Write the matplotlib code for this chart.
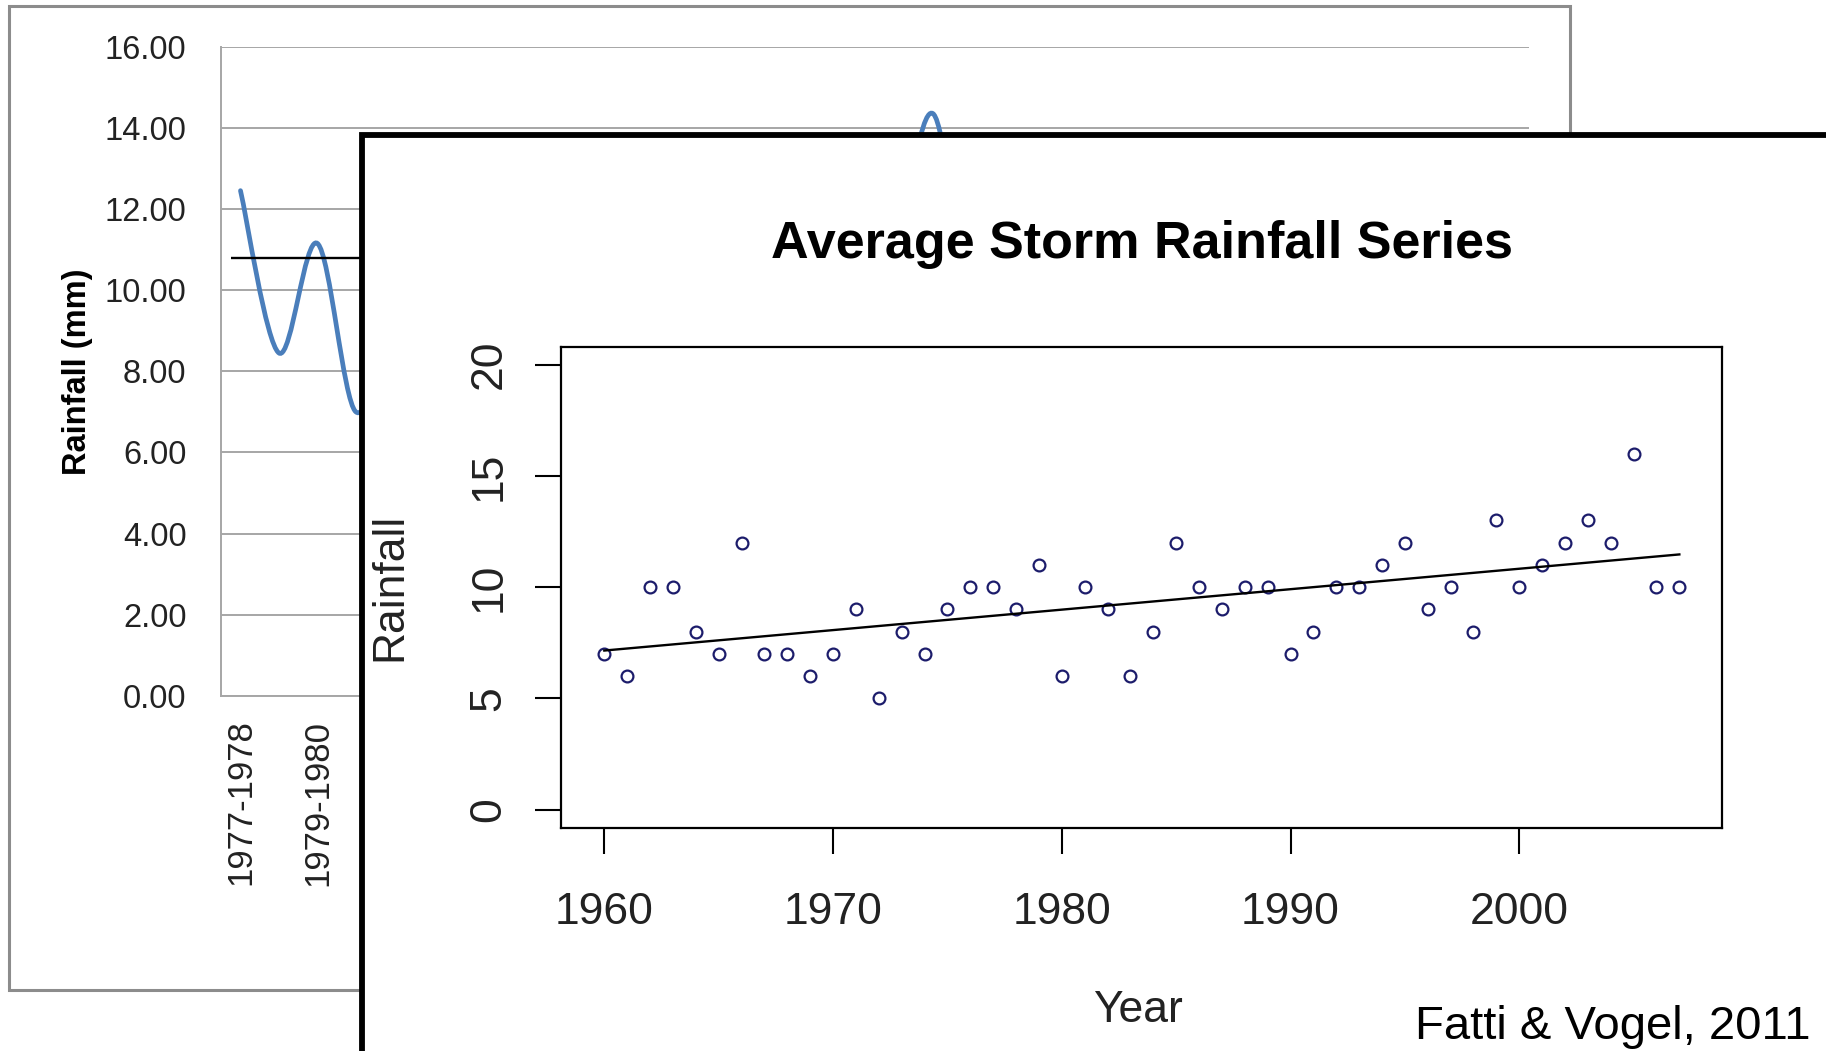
import numpy as np
import matplotlib
matplotlib.use("Agg")
import matplotlib.pyplot as plt
from matplotlib import font_manager
from matplotlib.patches import Rectangle, PathPatch
from matplotlib.path import Path

# ---- back chart (Excel style), mostly hidden behind the R plot ----
seasons = ["%d-%d" % (y, y + 1) for y in range(1977, 2011)]
season_rain = [12.45, 8.45, 11.15, 7.0, 9.6, 11.8, 8.9, 10.4, 12.2, 9.1,
               10.8, 8.2, 11.5, 10.1, 9.4, 12.6, 8.8, 10.9, 14.35, 9.7,
               11.2, 8.6, 10.5, 12.9, 9.3, 11.6, 10.2, 8.9, 12.1, 10.7,
               9.5, 11.9, 10.3, 11.0]
mean_rain = 10.78
back_yticks = [0, 2, 4, 6, 8, 10, 12, 14, 16]

# ---- front chart (R scatter) ----
years = list(range(1960, 2008))
storm_rain = [7, 6, 10, 10, 8, 7, 12, 7, 7, 6,
              7, 9, 5, 8, 7, 9, 10, 10, 9, 11,
              6, 10, 9, 6, 8, 12, 10, 9, 10, 10,
              7, 8, 10, 10, 11, 12, 9, 10, 8, 13,
              10, 11, 12, 13, 12, 16, 10, 10]
front_xticks = [1960, 1970, 1980, 1990, 2000]
front_yticks = [0, 5, 10, 15, 20]


def pick(name, fallback):
    try:
        font_manager.findfont(font_manager.FontProperties(family=name),
                              fallback_to_default=False)
        return name
    except Exception:
        return fallback


narrow = pick("Liberation Sans Narrow", "Liberation Sans")
arial = pick("Liberation Sans", "DejaVu Sans")

W, H = 1568.0, 903.0  # reference layout units

fig = plt.figure(figsize=(18.26, 10.51), dpi=100)
fig.patch.set_facecolor("white")

# outer grey frame of the Excel chart
fig.add_artist(Rectangle((8 / W, 1 - 851 / H), 1340 / W, 846 / H,
                         transform=fig.transFigure, fill=False,
                         ec="#8c8c8c", lw=2.2, zorder=-1))

axb = fig.add_axes([190 / W, 1 - 598 / H, 1123 / W, 558 / H], zorder=0)
axb.set_facecolor("none")
axb.set_xlim(-0.5, len(seasons) - 0.5)
axb.set_ylim(0, 16)
axb.set_yticks(back_yticks)
axb.set_yticklabels(["%.2f" % v for v in back_yticks], fontsize=23.5,
                    family=narrow, color="#222222")
axb.set_xticks(range(0, len(seasons), 2))
axb.set_xticklabels(seasons[::2], rotation=90, fontsize=25, family=arial,
                    color="#222222")
# labels further right sit under the front panel
for lbl in axb.get_xticklabels()[2:]:
    lbl.set_visible(False)
axb.tick_params(length=0)
axb.tick_params(axis="y", pad=25)
axb.tick_params(axis="x", pad=17)
axb.grid(axis="y", color="#a6a6a6", lw=1.4)
axb.set_axisbelow(True)
for s in ["top", "right"]:
    axb.spines[s].set_visible(False)
for s in ["left", "bottom"]:
    axb.spines[s].set_color("#a6a6a6")
    axb.spines[s].set_linewidth(1.4)
axb.set_ylabel("Rainfall (mm)", fontsize=23.5, weight="bold", family=arial)
axb.yaxis.set_label_coords(-0.110, 0.5)
axb.yaxis.label.set_va("center")

# smoothed line (Catmull-Rom as cubic bezier segments)
xs = np.arange(len(season_rain), dtype=float)
ys = np.array(season_rain, dtype=float)
px = np.concatenate([[xs[0]], xs, [xs[-1]]])
py = np.concatenate([[ys[0]], ys, [ys[-1]]])
verts = [(xs[0], ys[0])]
codes = [Path.MOVETO]
for i in range(1, len(px) - 2):
    c1 = (px[i] + (px[i + 1] - px[i - 1]) / 6, py[i] + (py[i + 1] - py[i - 1]) / 6)
    c2 = (px[i + 1] - (px[i + 2] - px[i]) / 6, py[i + 1] - (py[i + 2] - py[i]) / 6)
    verts += [c1, c2, (px[i + 1], py[i + 1])]
    codes += [Path.CURVE4] * 3
axb.add_patch(PathPatch(Path(verts, codes), fill=False, ec="#4a7ebb",
                        lw=3.4, capstyle="round"))
axb.hlines(mean_rain, -0.25, len(seasons) - 0.75, color="black", lw=1.7)

# white panel with thick black border (front image)
fig.add_artist(Rectangle((311 / W, -0.2), 1.0, (1 - 116 / H) + 0.2,
                         transform=fig.transFigure, fc="white",
                         ec="black", lw=4.2, zorder=1))

axf = fig.add_axes([482 / W, 1 - 711 / H, 997 / W, 413 / H], zorder=2)
axf.set_facecolor("white")
axf.plot(years, storm_rain, "o", mfc="none", mec="#1c1c6b", ms=8.5, mew=1.6)
slope, icpt = np.polyfit(years, storm_rain, 1)
yr = np.array([years[0], years[-1]])
axf.plot(yr, icpt + slope * yr, color="black", lw=1.7)
axf.set_xlim(1958.12, 2008.88)
axf.set_ylim(-0.8, 20.8)
axf.set_xticks(front_xticks)
axf.set_xticklabels([str(v) for v in front_xticks], fontsize=32, family=narrow,
                    color="#222222")
axf.set_yticks(front_yticks)
axf.set_yticklabels([str(v) for v in front_yticks], fontsize=32, family=narrow,
                    rotation=90, va="center", color="#222222")
axf.tick_params(direction="out", length=18.4, width=1.5)
axf.tick_params(axis="x", pad=28)
axf.tick_params(axis="y", pad=19)
for s in axf.spines.values():
    s.set_linewidth(1.6)
axf.set_title("Average Storm Rainfall Series", fontsize=37.5, weight="bold",
              family=narrow, y=(711 - 210) / 413, pad=0, va="center")
axf.set_xlabel("Year", fontsize=32, family=narrow, color="#222222")
axf.xaxis.set_label_coords(0.497, (711 - 868) / 413)
axf.xaxis.label.set_va("center")
axf.set_ylabel("Rainfall", fontsize=32, family=narrow, color="#222222")
axf.yaxis.set_label_coords((335 - 482) / 997, 0.5)
axf.yaxis.label.set_va("center")

fig.text(1555 / W, 1 - 882 / H, "Fatti & Vogel, 2011", fontsize=34,
         family=arial, ha="right", va="center", zorder=3)

fig.savefig("out.png", dpi=100)
